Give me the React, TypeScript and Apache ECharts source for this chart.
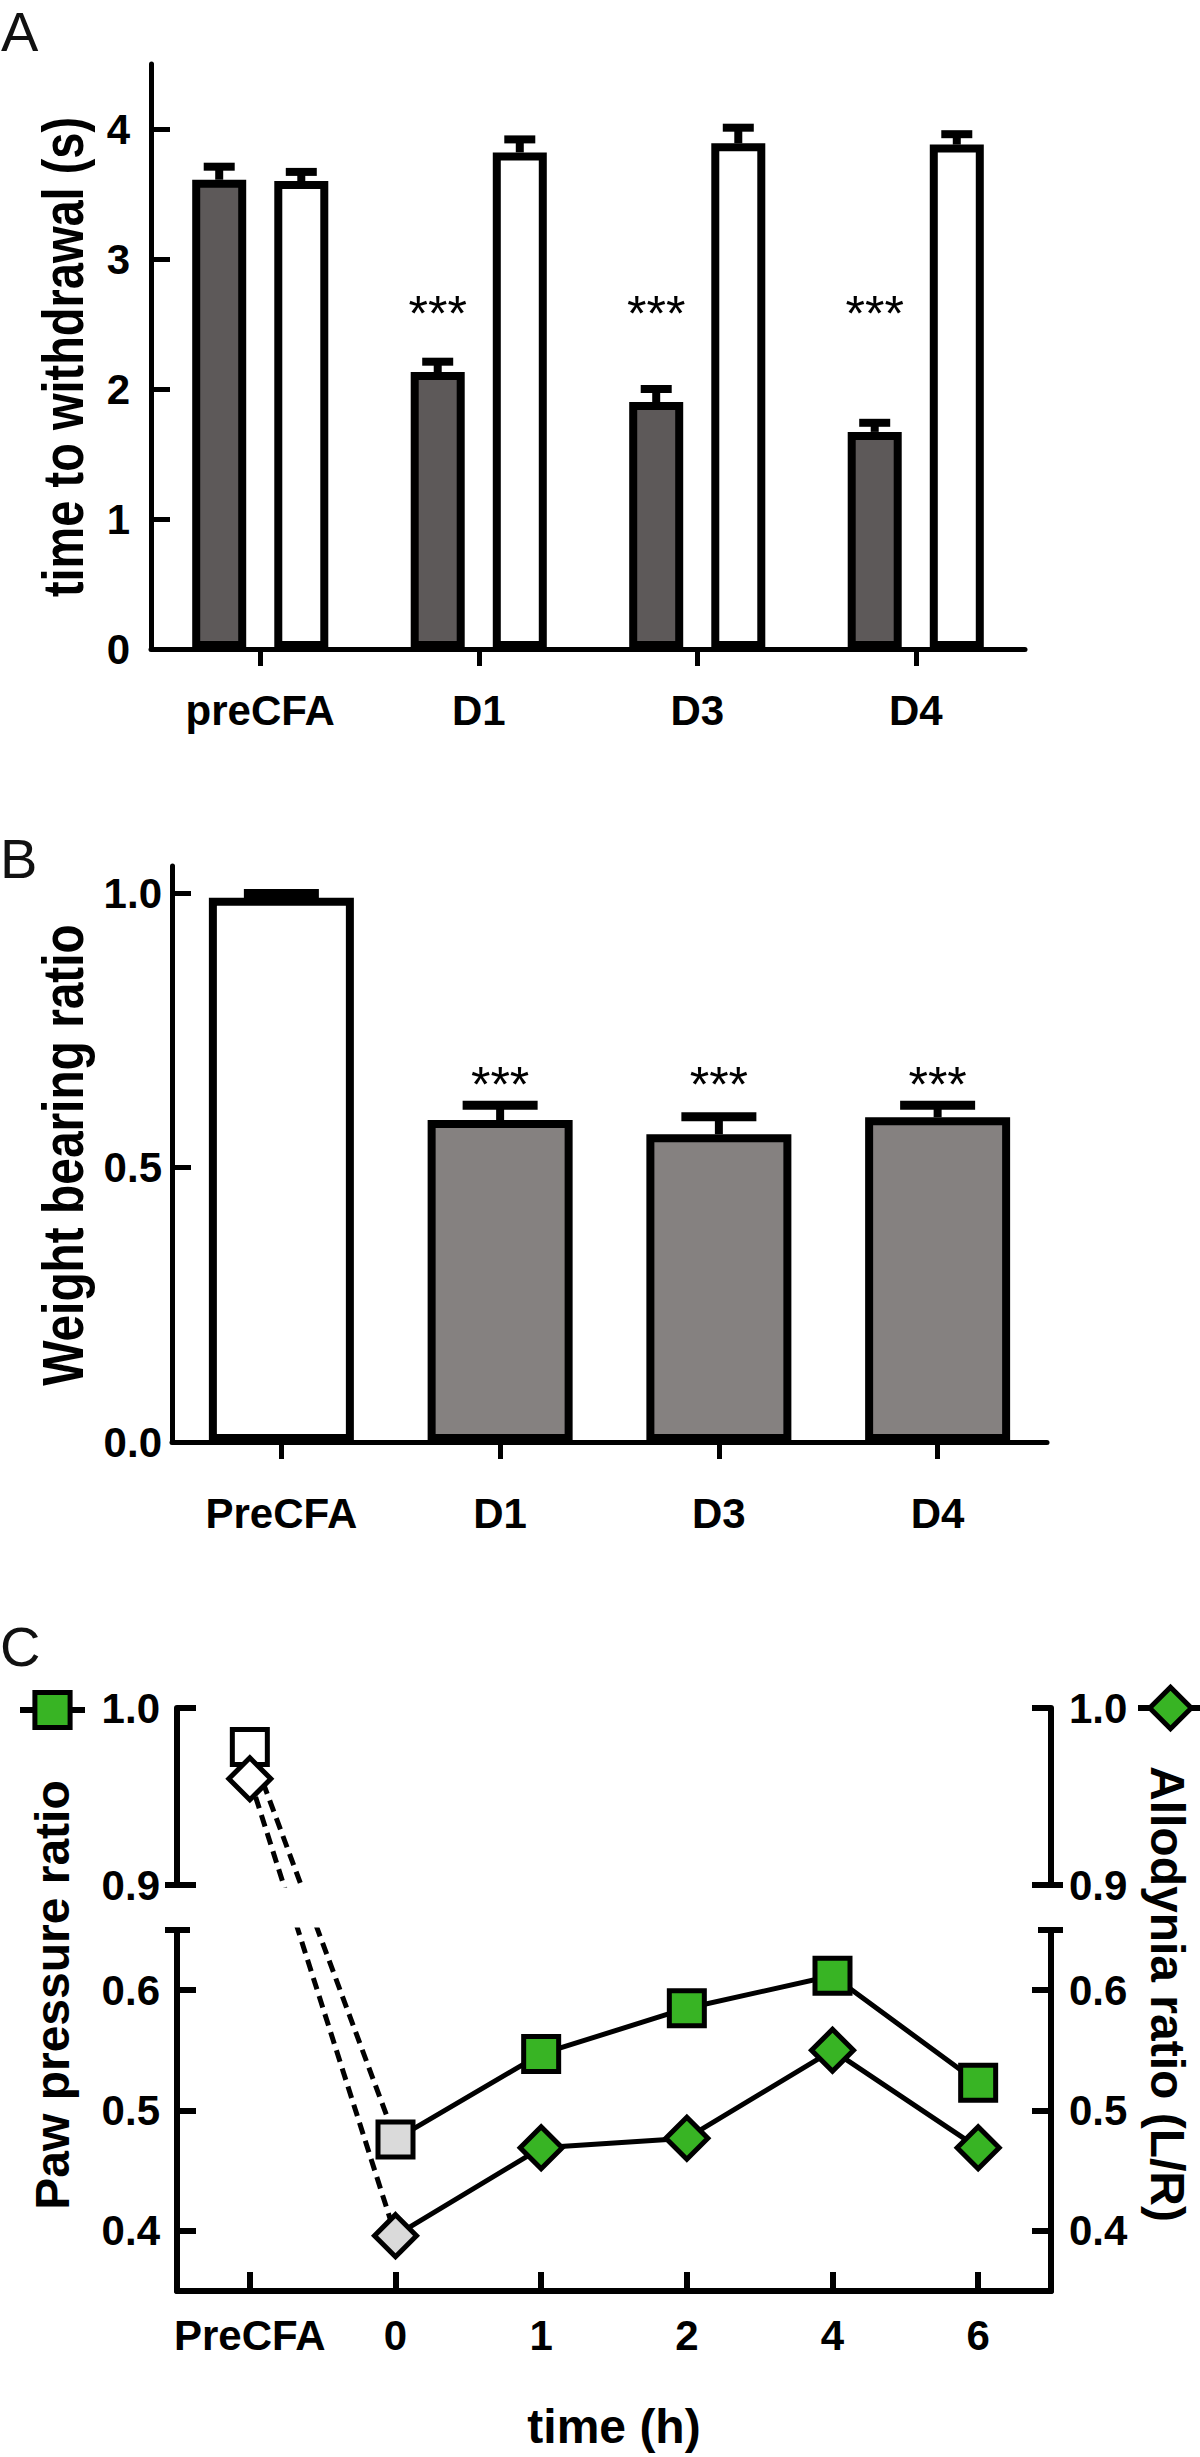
import React, { useEffect, useRef } from 'react';
import * as echarts from 'echarts';

// ---------------- Panel A : time to withdrawal ----------------
const catsA = ['preCFA', 'D1', 'D3', 'D4'];
const cfaPawA = [3.61, 2.13, 1.9, 1.67];
const cfaPawErrA = [3.71, 2.21, 2.0, 1.74];
const contraPawA = [3.6, 3.82, 3.89, 3.88];
const contraPawErrA = [3.67, 3.92, 4.01, 3.96];
const starsA = ['', '***', '***', '***'];
const starLevelA = 2.58;
const ticksA = [0, 1, 2, 3, 4];

// ---------------- Panel B : weight bearing ----------------
const catsB = ['PreCFA', 'D1', 'D3', 'D4'];
const weightB = [0.992, 0.587, 0.561, 0.592];
const weightErrB = [1.0, 0.614, 0.593, 0.614];
const starsB = ['', '***', '***', '***'];
const starLevelB = 0.651;
const ticksB = [0, 0.5, 1.0];

// ---------------- Panel C : paw pressure / allodynia ----------------
const catsC = ['PreCFA', '0', '1', '2', '4', '6'];
const pawRatio = [0.978, 0.476, 0.547, 0.585, 0.612, 0.523];
const allodyniaRatio = [0.96, 0.396, 0.469, 0.477, 0.55, 0.469];
const ticksCUpper = [0.9, 1.0];
const ticksCLower = [0.4, 0.5, 0.6];

const FONT = "'Liberation Sans', Arial, Helvetica, sans-serif";
const BLACK = '#000';
const DARK = '#5d5959';
const GREY = '#858180';
const GREEN = '#38b424';
const LIGHT = '#dadada';

const BAR_W_A = 54;
const BAR_GAP_A = 0.52;
const slotOffsetA = (slot: number) => (slot - 0.5) * BAR_W_A * (1 + BAR_GAP_A);

const tickLabel = (size = 42) => ({ fontSize: size, fontWeight: 'bold', fontFamily: FONT, color: BLACK });
const fmt1 = (v: number) => v.toFixed(1);

function valueAxis(gridIndex: number, position: string, min: number, max: number, ticks: number[], margin: number, lw: number, formatter?: any) {
  return {
    type: 'value', gridIndex, position, min, max,
    axisLine: { show: true, onZero: false, lineStyle: { color: BLACK, width: lw } },
    axisTick: { show: true, inside: true, length: 19, customValues: ticks, lineStyle: { color: BLACK, width: lw } },
    axisLabel: { show: true, customValues: ticks, margin, formatter, ...tickLabel(42) },
    splitLine: { show: false },
  };
}
function capAxis(gridIndex: number, position: string, min: number, max: number, value: number, inside: boolean, length: number) {
  return {
    type: 'value', gridIndex, position, min, max,
    axisLine: { show: false },
    axisTick: { show: true, inside, length, customValues: [value], lineStyle: { color: BLACK, width: 6 } },
    axisLabel: { show: false },
    splitLine: { show: false },
  };
}
function catAxis(gridIndex: number, data: string[], inside: boolean, len: number, margin: number, lw: number, show = true) {
  return {
    type: 'category', gridIndex, data, show,
    axisLine: { show: true, onZero: false, lineStyle: { color: BLACK, width: lw } },
    axisTick: { show: true, alignWithLabel: true, inside, length: len, lineStyle: { color: BLACK, width: lw } },
    axisLabel: { show: true, interval: 0, margin, ...tickLabel(42) },
    splitLine: { show: false },
  };
}

function errRender(offsetFn: (slot: number) => number, cap: number, lw: number) {
  return (params: any, api: any) => {
    const c = api.value(0);
    const base = api.coord([c, api.value(1)]);
    const top = api.coord([c, api.value(2)]);
    const x = base[0] + offsetFn(api.value(3));
    return {
      type: 'group',
      children: [
        { type: 'line', shape: { x1: x, y1: base[1], x2: x, y2: top[1] }, style: { stroke: BLACK, lineWidth: 8 } },
        { type: 'line', shape: { x1: x - cap / 2, y1: top[1], x2: x + cap / 2, y2: top[1] }, style: { stroke: BLACK, lineWidth: lw } },
      ],
    };
  };
}
function starRender(texts: string[], offset: number) {
  return (params: any, api: any) => {
    const t = texts[params.dataIndex];
    if (!t) return null;
    const p = api.coord([api.value(0), api.value(1)]);
    return {
      type: 'text', x: p[0] + offset, y: p[1],
      style: { text: t, fontSize: 50, fontFamily: FONT, fill: BLACK, align: 'center', verticalAlign: 'middle', textAlign: 'center', textVerticalAlign: 'middle' },
    };
  };
}

function titleText(text: string, x: number, y: number, rotation: number, size: number, scaleX = 1) {
  return {
    type: 'text', x, y, rotation, scaleX,
    style: { text, fontSize: size, fontWeight: 'bold', fontFamily: FONT, fill: BLACK, align: 'center', verticalAlign: 'middle', textAlign: 'center', textVerticalAlign: 'middle' },
  };
}
function panelLetter(text: string, x: number, y: number) {
  return {
    type: 'text', x, y,
    style: { text, fontSize: 56, fontFamily: FONT, fill: '#111', align: 'left', verticalAlign: 'top', textAlign: 'left', textVerticalAlign: 'top' },
  };
}

const markerStyle = (fill: string) => ({ color: fill, borderColor: BLACK, borderWidth: 5, opacity: 1 });
const dashStyle = { color: BLACK, width: 5, type: [12, 7] };

function buildOption() {
  const gridBase = { containLabel: false, outerBoundsMode: 'none' };
  return {
    animation: false,
    grid: [
      { ...gridBase, left: 151, top: 64, width: 874, height: 585 },
      { ...gridBase, left: 172, top: 866, width: 875, height: 576 },
      { ...gridBase, left: 177, top: 1708, width: 874, height: 177 },
      { ...gridBase, left: 177, top: 1930, width: 874, height: 361 },
    ],
    xAxis: [
      catAxis(0, catsA, false, 17, 40, 5),
      catAxis(1, catsB, false, 17, 50, 5),
      catAxis(2, catsC, true, 19, 23, 6, false),
      {
        ...catAxis(3, catsC, true, 19, 23, 6),
        name: 'time (h)', nameLocation: 'middle', nameGap: 111, nameMoveOverlap: false,
        nameTextStyle: { fontSize: 48, fontWeight: 'bold', fontFamily: FONT, color: BLACK },
      },
    ],
    yAxis: [
      valueAxis(0, 'left', 0, 4.5, ticksA, 21, 5),
      valueAxis(1, 'left', 0, 1.05, ticksB, 10, 5, fmt1),
      valueAxis(2, 'left', 0.9, 1.0, ticksCUpper, 17, 6, fmt1),
      valueAxis(2, 'right', 0.9, 1.0, ticksCUpper, 18, 6, fmt1),
      valueAxis(3, 'left', 0.35, 0.65, ticksCLower, 17, 6, fmt1),
      valueAxis(3, 'right', 0.35, 0.65, ticksCLower, 18, 6, fmt1),
      capAxis(2, 'left', 0.9, 1.0, 0.9, false, 12),
      capAxis(2, 'right', 0.9, 1.0, 0.9, false, 12),
      capAxis(3, 'left', 0.35, 0.65, 0.65, false, 12),
      capAxis(3, 'left', 0.35, 0.65, 0.65, true, 13),
      capAxis(3, 'right', 0.35, 0.65, 0.65, false, 12),
      capAxis(3, 'right', 0.35, 0.65, 0.65, true, 13),
    ],
    legend: [
      {
        data: ['Paw pressure ratio'], left: 17, top: 1688, itemWidth: 65, itemHeight: 44, padding: 0, itemGap: 0,
        selectedMode: false, formatter: () => '', textStyle: { fontSize: 1 },
        itemStyle: { borderColor: BLACK, borderWidth: 5 }, lineStyle: { color: BLACK, width: 6 },
      },
      {
        data: ['Allodynia ratio'], left: 1135, top: 1682, itemWidth: 65, itemHeight: 52, padding: 0, itemGap: 0,
        selectedMode: false, formatter: () => '', textStyle: { fontSize: 1 },
        itemStyle: { borderColor: BLACK, borderWidth: 5 }, lineStyle: { color: BLACK, width: 6 },
      },
    ],
    graphic: [
      panelLetter('A', 1, 3),
      panelLetter('B', 0, 830),
      panelLetter('C', 0, 1618),
      titleText('time to withdrawal (s)', 63, 357, Math.PI / 2, 58, 0.81),
      titleText('Weight bearing ratio', 63, 1155, Math.PI / 2, 58, 0.825),
      titleText('Paw pressure ratio', 52, 1995, Math.PI / 2, 48),
      titleText('Allodynia ratio (L/R)', 1167, 1994, -Math.PI / 2, 48),
    ],
    series: [
      // Panel A
      { type: 'bar', xAxisIndex: 0, yAxisIndex: 0, data: cfaPawA, barWidth: BAR_W_A, barGap: `${BAR_GAP_A * 100}%`, itemStyle: { color: DARK, borderColor: BLACK, borderWidth: 8 } },
      { type: 'bar', xAxisIndex: 0, yAxisIndex: 0, data: contraPawA, barWidth: BAR_W_A, barGap: `${BAR_GAP_A * 100}%`, itemStyle: { color: '#fff', borderColor: BLACK, borderWidth: 8 } },
      {
        type: 'custom', xAxisIndex: 0, yAxisIndex: 0, encode: { x: 0, y: [1, 2] },
        data: [...catsA.map((_, i) => [i, cfaPawA[i], cfaPawErrA[i], 0]), ...catsA.map((_, i) => [i, contraPawA[i], contraPawErrA[i], 1])],
        renderItem: errRender(slotOffsetA, 31, 8),
      },
      {
        type: 'custom', xAxisIndex: 0, yAxisIndex: 0, encode: { x: 0, y: 1 },
        data: catsA.map((_, i) => [i, starLevelA]),
        renderItem: starRender(starsA, slotOffsetA(0)),
      },
      // Panel B
      {
        type: 'bar', xAxisIndex: 1, yAxisIndex: 1, barWidth: 145,
        data: weightB.map((v, i) => ({ value: v, itemStyle: { color: i === 0 ? '#fff' : GREY } })),
        itemStyle: { borderColor: BLACK, borderWidth: 8 },
      },
      {
        type: 'custom', xAxisIndex: 1, yAxisIndex: 1, encode: { x: 0, y: [1, 2] },
        data: catsB.map((_, i) => [i, weightB[i], weightErrB[i], 0.5]),
        renderItem: errRender(() => 0, 75, 9),
      },
      {
        type: 'custom', xAxisIndex: 1, yAxisIndex: 1, encode: { x: 0, y: 1 },
        data: catsB.map((_, i) => [i, starLevelB]),
        renderItem: starRender(starsB, 0),
      },
      // Panel C dashed connectors (extended after layout)
      { id: 'sqDashUp', type: 'line', z: 1, xAxisIndex: 2, yAxisIndex: 2, data: [[0, pawRatio[0]]], showSymbol: false, symbol: 'none', lineStyle: dashStyle, clip: true },
      { id: 'sqDashLow', type: 'line', z: 1, xAxisIndex: 3, yAxisIndex: 4, data: [[1, pawRatio[1]]], showSymbol: false, symbol: 'none', lineStyle: dashStyle, clip: true },
      { id: 'diaDashUp', type: 'line', z: 1, xAxisIndex: 2, yAxisIndex: 3, data: [[0, allodyniaRatio[0]]], showSymbol: false, symbol: 'none', lineStyle: dashStyle, clip: true },
      { id: 'diaDashLow', type: 'line', z: 1, xAxisIndex: 3, yAxisIndex: 5, data: [[1, allodyniaRatio[1]]], showSymbol: false, symbol: 'none', lineStyle: dashStyle, clip: true },
      // Panel C solid series
      {
        name: 'Paw pressure ratio', type: 'line', z: 3, xAxisIndex: 3, yAxisIndex: 4,
        data: pawRatio.map((v, i) => (i === 0 ? null : i === 1 ? { value: v, itemStyle: markerStyle(LIGHT) } : v)),
        symbol: 'rect', symbolSize: 35, showSymbol: true, showAllSymbol: true,
        itemStyle: markerStyle(GREEN), lineStyle: { color: BLACK, width: 5 },
      },
      {
        name: 'Allodynia ratio', type: 'line', z: 4, xAxisIndex: 3, yAxisIndex: 5,
        data: allodyniaRatio.map((v, i) => (i === 0 ? null : i === 1 ? { value: v, itemStyle: markerStyle(LIGHT) } : v)),
        symbol: 'diamond', symbolSize: 42, showSymbol: true, showAllSymbol: true,
        itemStyle: markerStyle(GREEN), lineStyle: { color: BLACK, width: 5 },
      },
      {
        type: 'scatter', z: 5, xAxisIndex: 2, yAxisIndex: 2, data: [[0, pawRatio[0]]],
        symbol: 'rect', symbolSize: 35, itemStyle: markerStyle('#fff'), clip: false,
      },
      {
        type: 'scatter', z: 6, xAxisIndex: 2, yAxisIndex: 3, data: [[0, allodyniaRatio[0]]],
        symbol: 'diamond', symbolSize: 42, itemStyle: markerStyle('#fff'), clip: false,
      },
    ],
  };
}

export default function App() {
  const ref = useRef<HTMLDivElement>(null);
  useEffect(() => {
    document.body.style.margin = '0';
    if (!ref.current) return;
    const chart = echarts.init(ref.current, null, { renderer: 'svg' });
    const option: any = buildOption();
    chart.setOption(option);

    const idx = (id: string) => option.series.findIndex((s: any) => s.id === id);
    const extend = (upId: string, lowId: string, values: number[]) => {
      const up = idx(upId);
      const low = idx(lowId);
      const pPre = chart.convertToPixel({ seriesIndex: up }, [0, values[0]]) as number[];
      const p0 = chart.convertToPixel({ seriesIndex: low }, [1, values[1]]) as number[];
      const upEnd = (chart.convertFromPixel({ seriesIndex: up }, p0) as number[])[1];
      const lowStart = (chart.convertFromPixel({ seriesIndex: low }, pPre) as number[])[1];
      return [
        { id: upId, data: [[0, values[0]], [1, upEnd]] },
        { id: lowId, data: [[0, lowStart], [1, values[1]]] },
      ];
    };
    chart.setOption({
      series: [...extend('sqDashUp', 'sqDashLow', pawRatio), ...extend('diaDashUp', 'diaDashLow', allodyniaRatio)],
    });
    return () => chart.dispose();
  }, []);
  return <div ref={ref} style={{ width: 1200, height: 2457 }} />;
}
